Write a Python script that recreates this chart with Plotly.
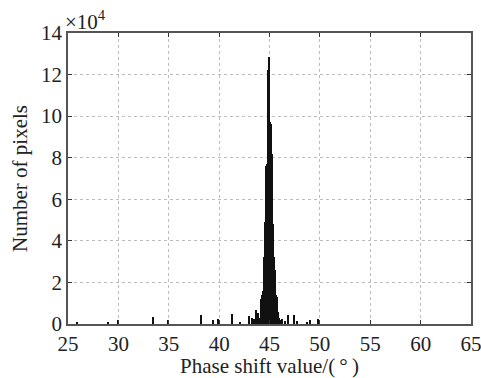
import plotly.graph_objects as go

# Histogram bin centres (degrees) and counts (pixels)
phase_deg = [25.85, 28.95, 30.0, 33.45, 34.95, 38.2, 39.35, 39.85, 41.3, 42.05,
             43.0, 43.3, 43.5, 43.65, 43.9, 44.05,
             44.15, 44.25, 44.35, 44.45, 44.55, 44.65, 44.75, 44.85, 44.95,
             45.05, 45.15, 45.25, 45.35, 45.45, 45.55, 45.65, 45.75, 45.85,
             45.95, 46.05, 46.2, 46.55, 46.85, 47.45, 47.7, 48.7, 49.0, 49.85]
pixel_counts = [500, 700, 2000, 3400, 2000, 4500, 2000, 2400, 4600, 1000,
                4000, 2900, 2500, 6700, 5500, 3000,
                12000, 14000, 16000, 32000, 49000, 76000, 77000, 122000, 128500,
                97000, 96000, 82000, 48000, 32000, 26000, 14000, 13000, 6000,
                3000, 2000, 2400, 1500, 4300, 4300, 1500, 1000, 2000, 2500]

x_ticks = [25, 30, 35, 40, 45, 50, 55, 60, 65]
y_ticks = [0, 20000, 40000, 60000, 80000, 100000, 120000, 140000]
y_tick_labels = ["0", "2", "4", "6", "8", "10", "12", "14"]

FONT = "Liberation Serif"
TXT = "#222222"

fig = go.Figure()
fig.add_trace(go.Bar(
    x=phase_deg, y=pixel_counts, width=0.1,
    marker=dict(color="#111111", line=dict(width=0)),
))

axis_common = dict(
    showline=True, linecolor="#555555", linewidth=1.5, mirror="ticks",
    ticks="inside", ticklen=4, tickcolor="#333333",
    showgrid=True, gridcolor="#bdbdbd", griddash="dot", gridwidth=1,
    zeroline=False, ticklabeloverflow="allow", automargin=False,
    tickfont=dict(family=FONT, size=21, color=TXT),
)

fig.update_layout(
    width=481, height=378,
    margin=dict(l=68, r=10, t=33, b=54),
    paper_bgcolor="white", plot_bgcolor="white",
    showlegend=False, bargap=0,
    xaxis=dict(range=[25, 65], tickvals=x_ticks, **axis_common,
               title=dict(text="Phase shift value/(\u2009°\u2009)", standoff=2,
                          font=dict(family=FONT, size=21, color=TXT))),
    yaxis=dict(range=[0, 140000], tickvals=y_ticks, ticktext=y_tick_labels, **axis_common,
               title=dict(text="Number of pixels", standoff=8,
                          font=dict(family=FONT, size=21, color=TXT))),
    annotations=[dict(text="×10<sup>4</sup>", xref="paper", yref="paper", x=0, y=1,
                      xanchor="left", yanchor="bottom", showarrow=False, xshift=-5, yshift=-3,
                      font=dict(family=FONT, size=21, color=TXT))],
)

fig.write_html("out.html", config={"displayModeBar": False},
               post_script="document.body.style.margin='0';document.body.style.overflow='hidden';")
